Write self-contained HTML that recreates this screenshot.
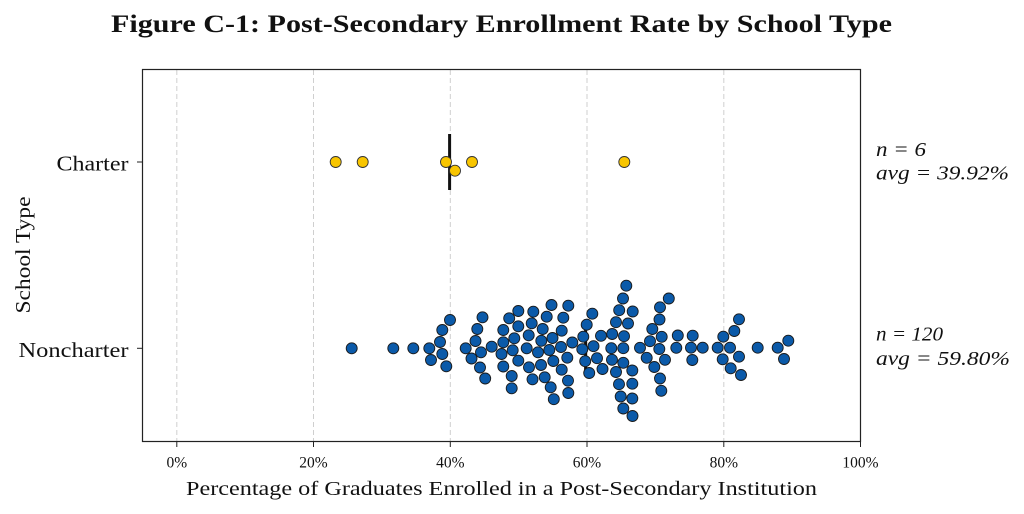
<!DOCTYPE html>
<html>
<head>
<meta charset="utf-8">
<style>
html,body{margin:0;padding:0;background:#fff;}
svg{display:block;}
text{font-family:"Liberation Serif","DejaVu Serif",serif;fill:#111;}
</style>
</head>
<body>
<svg width="1024" height="514" viewBox="0 0 1024 514" xmlns="http://www.w3.org/2000/svg">
<rect width="1024" height="514" fill="#fff"/>
<text x="501.5" y="32" text-anchor="middle" font-size="25" font-weight="bold" textLength="781" lengthAdjust="spacingAndGlyphs">Figure C-1: Post-Secondary Enrollment Rate by School Type</text>

<g stroke="#cfcfcf" stroke-width="1" stroke-dasharray="5,3">
<line x1="176.8" y1="70" x2="176.8" y2="441"/>
<line x1="313.5" y1="70" x2="313.5" y2="441"/>
<line x1="450.3" y1="70" x2="450.3" y2="441"/>
<line x1="587.0" y1="70" x2="587.0" y2="441"/>
<line x1="723.8" y1="70" x2="723.8" y2="441"/>
</g>

<line x1="449.6" y1="134" x2="449.6" y2="190" stroke="#111" stroke-width="3"/>
<line x1="585.6" y1="320" x2="585.6" y2="376" stroke="#111" stroke-width="3"/>

<g fill="#f8c500" stroke="#333" stroke-width="0.9">
<circle cx="335.7" cy="162" r="5.5"/>
<circle cx="362.7" cy="162" r="5.5"/>
<circle cx="446" cy="162" r="5.5"/>
<circle cx="455" cy="170.7" r="5.5"/>
<circle cx="472" cy="162" r="5.5"/>
<circle cx="624.3" cy="162" r="5.5"/>
</g>

<g fill="#0b5aa9" stroke="#1a1a1a" stroke-width="0.9">
<circle cx="351.7" cy="348.3" r="5.5"/>
<circle cx="393.3" cy="348.3" r="5.5"/>
<circle cx="413.3" cy="348.3" r="5.5"/>
<circle cx="429.3" cy="348.3" r="5.5"/>
<circle cx="440" cy="342" r="5.5"/>
<circle cx="442.3" cy="330" r="5.5"/>
<circle cx="450" cy="320" r="5.5"/>
<circle cx="431" cy="360" r="5.5"/>
<circle cx="442.3" cy="354" r="5.5"/>
<circle cx="446.3" cy="366.3" r="5.5"/>
<circle cx="465.7" cy="348.3" r="5.5"/>
<circle cx="475.5" cy="341" r="5.5"/>
<circle cx="477.3" cy="329" r="5.5"/>
<circle cx="482.5" cy="317.3" r="5.5"/>
<circle cx="481" cy="352.3" r="5.5"/>
<circle cx="471.5" cy="358.5" r="5.5"/>
<circle cx="480" cy="367.5" r="5.5"/>
<circle cx="485.2" cy="378.5" r="5.5"/>
<circle cx="491.7" cy="346.7" r="5.5"/>
<circle cx="503.3" cy="330" r="5.5"/>
<circle cx="509.2" cy="318.3" r="5.5"/>
<circle cx="518.3" cy="311" r="5.5"/>
<circle cx="533.3" cy="311.7" r="5.5"/>
<circle cx="518.3" cy="326.3" r="5.5"/>
<circle cx="503.3" cy="342.3" r="5.5"/>
<circle cx="501.5" cy="354" r="5.5"/>
<circle cx="503.3" cy="366.5" r="5.5"/>
<circle cx="511.7" cy="376" r="5.5"/>
<circle cx="511.7" cy="388.3" r="5.5"/>
<circle cx="514.3" cy="338.3" r="5.5"/>
<circle cx="512.7" cy="350.3" r="5.5"/>
<circle cx="518.3" cy="360.7" r="5.5"/>
<circle cx="531.7" cy="323.3" r="5.5"/>
<circle cx="528.7" cy="335.3" r="5.5"/>
<circle cx="526.7" cy="348.3" r="5.5"/>
<circle cx="529" cy="367.3" r="5.5"/>
<circle cx="532.5" cy="379.3" r="5.5"/>
<circle cx="542.7" cy="329" r="5.5"/>
<circle cx="541.3" cy="340.8" r="5.5"/>
<circle cx="538" cy="352.3" r="5.5"/>
<circle cx="541" cy="365" r="5.5"/>
<circle cx="544.7" cy="377.3" r="5.5"/>
<circle cx="551.5" cy="305" r="5.5"/>
<circle cx="568.3" cy="305.7" r="5.5"/>
<circle cx="546.7" cy="316.7" r="5.5"/>
<circle cx="563.3" cy="317.7" r="5.5"/>
<circle cx="561.7" cy="330.7" r="5.5"/>
<circle cx="552.5" cy="338" r="5.5"/>
<circle cx="572.3" cy="342.5" r="5.5"/>
<circle cx="561" cy="347" r="5.5"/>
<circle cx="549.3" cy="350" r="5.5"/>
<circle cx="567.3" cy="357.7" r="5.5"/>
<circle cx="553.3" cy="361" r="5.5"/>
<circle cx="561.7" cy="369.7" r="5.5"/>
<circle cx="568" cy="380.7" r="5.5"/>
<circle cx="550.7" cy="387.3" r="5.5"/>
<circle cx="568.3" cy="393" r="5.5"/>
<circle cx="553.8" cy="399.2" r="5.5"/>
<circle cx="592.3" cy="313.7" r="5.5"/>
<circle cx="586.7" cy="324.7" r="5.5"/>
<circle cx="583.3" cy="336.7" r="5.5"/>
<circle cx="582.3" cy="349.2" r="5.5"/>
<circle cx="585.2" cy="361.2" r="5.5"/>
<circle cx="589.2" cy="373" r="5.5"/>
<circle cx="593.5" cy="346.2" r="5.5"/>
<circle cx="601" cy="335.8" r="5.5"/>
<circle cx="597" cy="358.2" r="5.5"/>
<circle cx="602.5" cy="369" r="5.5"/>
<circle cx="612.2" cy="334" r="5.5"/>
<circle cx="611.3" cy="348.2" r="5.5"/>
<circle cx="612" cy="359.8" r="5.5"/>
<circle cx="616" cy="372" r="5.5"/>
<circle cx="619" cy="384.2" r="5.5"/>
<circle cx="620.7" cy="396.5" r="5.5"/>
<circle cx="623.3" cy="408.5" r="5.5"/>
<circle cx="632.5" cy="416" r="5.5"/>
<circle cx="616" cy="322.2" r="5.5"/>
<circle cx="619.2" cy="310.2" r="5.5"/>
<circle cx="623" cy="298.5" r="5.5"/>
<circle cx="626.3" cy="285.7" r="5.5"/>
<circle cx="624" cy="336.2" r="5.5"/>
<circle cx="623.3" cy="348.2" r="5.5"/>
<circle cx="623.3" cy="362.8" r="5.5"/>
<circle cx="628" cy="323.5" r="5.5"/>
<circle cx="632.7" cy="311.5" r="5.5"/>
<circle cx="632.3" cy="370.5" r="5.5"/>
<circle cx="632.3" cy="383.7" r="5.5"/>
<circle cx="632.3" cy="398.5" r="5.5"/>
<circle cx="640" cy="347.8" r="5.5"/>
<circle cx="646.7" cy="357.8" r="5.5"/>
<circle cx="650" cy="341.2" r="5.5"/>
<circle cx="652.3" cy="329" r="5.5"/>
<circle cx="659.5" cy="319.5" r="5.5"/>
<circle cx="660" cy="307.3" r="5.5"/>
<circle cx="668.8" cy="298.5" r="5.5"/>
<circle cx="661.7" cy="336.8" r="5.5"/>
<circle cx="659.3" cy="349" r="5.5"/>
<circle cx="665" cy="359.8" r="5.5"/>
<circle cx="654.3" cy="367" r="5.5"/>
<circle cx="660" cy="378.5" r="5.5"/>
<circle cx="661.3" cy="390.8" r="5.5"/>
<circle cx="677.8" cy="335.5" r="5.5"/>
<circle cx="676.3" cy="347.8" r="5.5"/>
<circle cx="692.7" cy="335.7" r="5.5"/>
<circle cx="691" cy="347.7" r="5.5"/>
<circle cx="702.7" cy="347.7" r="5.5"/>
<circle cx="692.3" cy="360" r="5.5"/>
<circle cx="717.7" cy="347.7" r="5.5"/>
<circle cx="723.3" cy="336.7" r="5.5"/>
<circle cx="734.3" cy="331" r="5.5"/>
<circle cx="739" cy="319.3" r="5.5"/>
<circle cx="730" cy="347.7" r="5.5"/>
<circle cx="739" cy="356.7" r="5.5"/>
<circle cx="722.7" cy="359.3" r="5.5"/>
<circle cx="730.7" cy="368.3" r="5.5"/>
<circle cx="741" cy="375" r="5.5"/>
<circle cx="757.7" cy="347.7" r="5.5"/>
<circle cx="777.7" cy="347.7" r="5.5"/>
<circle cx="788.3" cy="340.7" r="5.5"/>
<circle cx="784" cy="359" r="5.5"/>
</g>

<rect x="142.5" y="69.5" width="718" height="372" fill="none" stroke="#222" stroke-width="1.2"/>

<g stroke="#222" stroke-width="1">
<line x1="176.8" y1="441.5" x2="176.8" y2="447"/>
<line x1="313.5" y1="441.5" x2="313.5" y2="447"/>
<line x1="450.3" y1="441.5" x2="450.3" y2="447"/>
<line x1="587.0" y1="441.5" x2="587.0" y2="447"/>
<line x1="723.8" y1="441.5" x2="723.8" y2="447"/>
<line x1="860.5" y1="441.5" x2="860.5" y2="447"/>
<line x1="137" y1="162" x2="142.5" y2="162"/>
<line x1="137" y1="348.3" x2="142.5" y2="348.3"/>
</g>
<g font-size="15.5" text-anchor="middle">
<text x="176.8" y="467.5">0%</text>
<text x="313.5" y="467.5">20%</text>
<text x="450.3" y="467.5">40%</text>
<text x="587.0" y="467.5">60%</text>
<text x="723.8" y="467.5">80%</text>
<text x="860.5" y="467.5">100%</text>
</g>
<text x="501.5" y="495" text-anchor="middle" font-size="20" textLength="631" lengthAdjust="spacingAndGlyphs">Percentage of Graduates Enrolled in a Post-Secondary Institution</text>

<text x="128.5" y="170.5" text-anchor="end" font-size="21" textLength="72" lengthAdjust="spacingAndGlyphs">Charter</text>
<text x="128.5" y="357" text-anchor="end" font-size="21" textLength="110" lengthAdjust="spacingAndGlyphs">Noncharter</text>
<text transform="translate(30,255) rotate(-90)" text-anchor="middle" font-size="21" textLength="117" lengthAdjust="spacingAndGlyphs">School Type</text>

<g font-size="20" font-style="italic">
<text x="876" y="156" textLength="50" lengthAdjust="spacingAndGlyphs">n = 6</text>
<text x="876" y="179.5" textLength="133" lengthAdjust="spacingAndGlyphs">avg = 39.92%</text>
<text x="876" y="340.5" textLength="67" lengthAdjust="spacingAndGlyphs">n = 120</text>
<text x="876" y="365" textLength="134" lengthAdjust="spacingAndGlyphs">avg = 59.80%</text>
</g>
</svg>
</body>
</html>
